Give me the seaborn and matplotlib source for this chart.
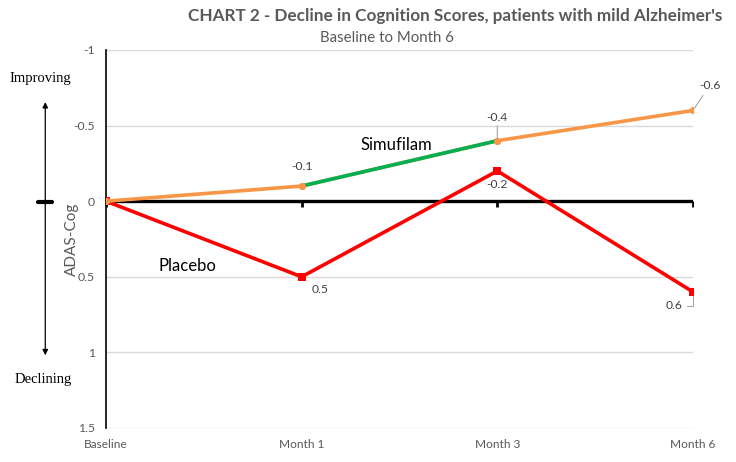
import matplotlib
matplotlib.use("Agg")
import matplotlib.pyplot as plt
import pandas as pd
import seaborn as sns

# chart data
visits = ["Baseline", "Month 1", "Month 3", "Month 6"]
placebo = [0.0, 0.5, -0.2, 0.6]
simufilam = [0.0, -0.1, -0.4, -0.6]
placebo_labels = ["", "0.5", "-0.2", "0.6"]
simufilam_labels = ["", "-0.1", "-0.4", "-0.6"]
y_ticks = [-1, -0.5, 0, 0.5, 1, 1.5]
y_tick_labels = ["-1", "-0.5", "0", "0.5", "1", "1.5"]

ORANGE = "#F79646"
GREEN = "#00B050"
RED = "#FF0000"
GRAY = "#595959"

sns.set_theme(style="white")
plt.rcParams["font.family"] = ["Lato", "DejaVu Sans"]

df = pd.DataFrame({"pos": range(len(visits)), "visit": visits,
                   "Placebo": placebo, "Simufilam": simufilam})

fig = plt.figure(figsize=(7.36, 4.62), dpi=100)
ax = fig.add_axes([0.144, 0.0736, 0.7976, 0.8182])

# gridlines
for t in y_ticks:
    if t != 0:
        ax.axhline(t, color="#D9D9D9", lw=1, zorder=0)
ax.axhline(0, color="black", lw=2.4, zorder=1)
ax.plot(df["pos"], [0] * len(visits), ls="none", marker=3, ms=4, mew=2,
        color="black", zorder=1)

# placebo line
sns.lineplot(data=df, x="pos", y="Placebo", ax=ax, color=RED, lw=2.6,
             marker="s", markersize=6, markeredgewidth=0, zorder=3)
# simufilam line: orange, green between Month 1 and Month 3
sns.lineplot(data=df, x="pos", y="Simufilam", ax=ax, color=ORANGE, lw=2.6,
             marker="o", markersize=5, markeredgewidth=0, zorder=4)
sns.lineplot(data=df.iloc[1:3], x="pos", y="Simufilam", ax=ax, color=GREEN,
             lw=2.6, zorder=4)
ax.plot(df["pos"], df["Simufilam"], ls="none", marker="o", ms=5, mew=0,
        color=ORANGE, zorder=5)

# data labels
lbl = dict(fontsize=8.7, color="#404040", ha="center")
ax.annotate(simufilam_labels[1], (1, simufilam[1]), xytext=(0, 10),
            textcoords="offset points", va="bottom", **lbl)
ax.annotate(simufilam_labels[2], (2, simufilam[2]), xytext=(0, 13),
            textcoords="offset points", va="bottom",
            arrowprops=dict(arrowstyle="-", color="#A6A6A6", lw=0.8,
                            shrinkA=0, shrinkB=2), **lbl)
ax.annotate(simufilam_labels[3], (3, simufilam[3]), xytext=(12, 14),
            textcoords="offset points", va="bottom",
            arrowprops=dict(arrowstyle="-", color="#A6A6A6", lw=0.8,
                            shrinkA=1, shrinkB=2), **lbl)
ax.annotate(placebo_labels[1], (1, placebo[1]), xytext=(13, -5),
            textcoords="offset points", va="top", **lbl)
ax.annotate(placebo_labels[2], (2, placebo[2]), xytext=(0, -6),
            textcoords="offset points", va="top", **lbl)
ax.annotate(placebo_labels[3], (3, placebo[3]), xytext=(-14, -6),
            textcoords="offset points", va="top",
            arrowprops=dict(arrowstyle="-", color="#A6A6A6", lw=0.8,
                            connectionstyle="angle,angleA=0,angleB=90",
                            shrinkA=1, shrinkB=3), **lbl)

# series names
ax.text(1.3, -0.34, "Simufilam", fontsize=12, color="black")
ax.text(0.27, 0.46, "Placebo", fontsize=12, color="black")

# axes styling
ax.set_xlim(0, 3)
ax.set_ylim(1.5, -1)
ax.set_yticks(y_ticks)
ax.set_yticklabels(y_tick_labels, color=GRAY, fontsize=8.8)
ax.set_xticks(df["pos"])
ax.set_xticklabels(visits, color=GRAY, fontsize=8.6)
ax.tick_params(axis="both", length=0, pad=8)
ax.tick_params(axis="x", pad=8)
for side in ["top", "right", "bottom"]:
    ax.spines[side].set_visible(False)
ax.spines["left"].set_color("black")
ax.spines["left"].set_linewidth(1.2)
ax.set_xlabel("")
ax.set_ylabel("ADAS-Cog", color=GRAY, fontsize=11, labelpad=2)
ax.yaxis.set_label_coords(-0.046, 0.5)

# titles
fig.text(0.618, 0.965, "CHART 2 - Decline in Cognition Scores, patients with mild Alzheimer's",
         ha="center", va="center", fontsize=12.3, fontweight="bold", color=GRAY)
fig.text(0.526, 0.918, "Baseline to Month 6", ha="center", va="center",
         fontsize=10.8, color=GRAY)

# improving / declining arrow
fig.text(0.055, 0.831, "Improving", ha="center", va="center", fontsize=10.5,
         family="Liberation Serif", color="black")
fig.text(0.059, 0.178, "Declining", ha="center", va="center", fontsize=10.5,
         family="Liberation Serif", color="black")
fig.patches.append(matplotlib.patches.FancyArrowPatch(
    (0.0615, 0.225), (0.0615, 0.785), transform=fig.transFigure,
    arrowstyle="<|-|>", mutation_scale=8, lw=0.9, color="black"))
fig.lines.append(matplotlib.lines.Line2D([0.052, 0.071], [0.562, 0.562],
                                         transform=fig.transFigure,
                                         color="black", lw=3))

fig.savefig("out.png", dpi=100)
